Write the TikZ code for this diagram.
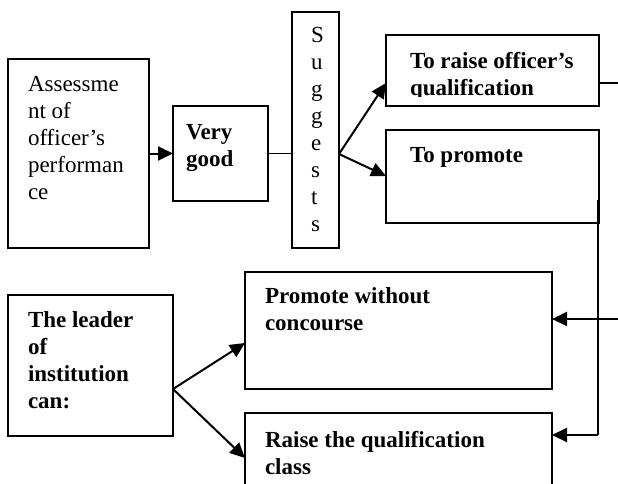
\documentclass[tikz,border=0pt]{standalone}
\usepackage{fontspec}
\setmainfont{Liberation Serif}
\usetikzlibrary{arrows.meta,calc}
\tikzset{
  box/.style={draw, line width=1.4pt, inner sep=0pt, outer sep=0pt, anchor=north west, rectangle},
  txt/.style={inner sep=0pt, outer sep=0pt, align=left, anchor=base west, font=\fontsize{23}{27}\selectfont},
  btxt/.style={txt, font=\fontsize{23}{27}\selectfont\bfseries},
  arr/.style={line width=2pt, -{Triangle[length=15pt,width=14pt]}},
  ln/.style={line width=1.6pt},
}
\begin{document}
\begin{tikzpicture}[x=1pt,y=-1pt]
\useasboundingbox (0,0) rectangle (618,483);
\clip (0,0) rectangle (618,483);
% boxes
\node[box, minimum width=141pt, minimum height=189pt] (assess) at (8,59) {};
\node[box, minimum width=95pt, minimum height=95pt] (vg) at (173,106) {};
\node[box, minimum width=47pt, minimum height=236pt] (sug) at (292,12) {};
\node[box, minimum width=213pt, minimum height=71pt] (raise) at (386,35) {};
\node[box, minimum width=213pt, minimum height=93pt] (prom) at (386,130) {};
\node[box, minimum width=165pt, minimum height=141pt] (leader) at (8,295) {};
\node[box, minimum width=307pt, minimum height=117pt] (pwc) at (245,272) {};
\node[box, minimum width=307pt, minimum height=82pt] (rqc) at (245,413) {};
% texts (anchor = baseline of last line)
\node[txt] (tassess) at (28,199) {Assessme\\nt of\\officer’s\\performan\\ce};
\node[btxt] (tvg) at (186,166) {Very\\good};
\node[txt] (tsug) at (311,231) {S\\u\\g\\g\\e\\s\\t\\s};
\begin{scope}
\clip (386,35) rectangle (599,96);
\node[btxt] (traise) at (410,95) {To raise officer’s\\qualification};
\end{scope}
\node[btxt] (tprom) at (410,162) {To promote};
\node[btxt] (tleader) at (28,408) {The leader\\of\\institution\\can:};
\node[btxt] (tpwc) at (265,330) {Promote without\\concourse};
\node[btxt] (trqc) at (265,474) {Raise the qualification\\class};
% coordinates
\coordinate (s0) at (339,154);
\coordinate (l0) at (173,389);
\coordinate (rend) at (618,83);
\coordinate (vtop) at (598,200);
\coordinate (vbot) at (598,435);
\coordinate (hin) at (618,319);
% connectors
\draw[arr] (assess.east) -- (vg.west);
\draw[ln] (vg.east) -- (vg.east -| sug.west);
\draw[arr] (s0) -- (raise.west |- 0,83);
\draw[arr] (s0) -- (prom.west |- 0,176);
\draw[ln] (raise.east |- rend) -- (rend);
\draw[ln] (vtop) -- (vbot);
\draw[arr] (vbot) -- (vbot -| rqc.east);
\draw[arr] (hin) -- (hin -| pwc.east);
\draw[arr] (l0) -- (pwc.west |- 0,343);
\draw[arr] (l0) -- (rqc.west |- 0,458);
\end{tikzpicture}
\end{document}
